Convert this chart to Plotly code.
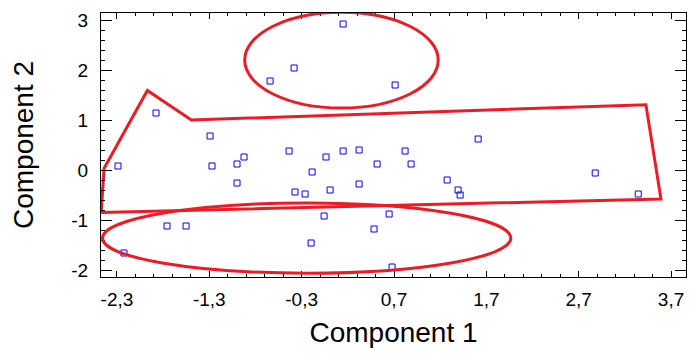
import plotly.graph_objects as go

# Scores (Component 1, Component 2)
comp1 = [0.149, -0.382, -0.642, 0.712, -1.877, -1.292, -2.289, -1.271, -1.000, -0.924,
         -1.000, -0.436, -0.372, -1.758, -1.552, -2.224, -0.263, -0.187, -0.036, 0.008,
         0.149, 0.322, 0.322, 0.517, 0.820, 0.885, 1.275, 1.394, 1.416, 1.611,
         -0.057, 0.647, 0.484, -0.198, 0.679, 2.879, 3.345]
comp2 = [2.934, 2.054, 1.794, 1.714, 1.154, 0.694, 0.094, 0.094, 0.134, 0.274,
         -0.246, 0.394, -0.426, -1.106, -1.106, -1.646, -0.466, -0.026, 0.274, -0.386,
         0.394, 0.414, -0.266, 0.134, 0.394, 0.134, -0.186, -0.386, -0.486, 0.634,
         -0.906, -0.866, -1.166, -1.446, -1.926, -0.046, -0.466]

# Group outline (polygon vertices)
hull_x = [-2.471, -2.439, -1.971, -1.494, 3.428, 3.591, -2.471]
hull_y = [-0.834, 0.050, 1.606, 1.014, 1.320, -0.566, -0.834]

# Ellipses: centre x, centre y, semi-axis x, semi-axis y
ellipse_top = [0.131, 2.212, 1.048, 0.958]
ellipse_bottom = [-0.246, -1.348, 2.211, 0.702]

x_tick_vals = [-2.3, -1.3, -0.3, 0.7, 1.7, 2.7, 3.7]
x_tick_labels = ["-2,3", "-1,3", "-0,3", "0,7", "1,7", "2,7", "3,7"]
y_tick_vals = [-2, -1, 0, 1, 2, 3]
y_tick_labels = ["-2", "-1", "0", "1", "2", "3"]

RED = "#ED1C24"
BLUE = "#0000FF"
FONT = "Liberation Sans, Arial, sans-serif"

fig = go.Figure()
fig.add_trace(go.Scatter(x=hull_x, y=hull_y, mode="lines",
                         line=dict(color=RED, width=3), hoverinfo="skip"))
fig.add_trace(go.Scatter(x=comp1, y=comp2, mode="markers",
                         marker=dict(symbol="square-open", size=6, color=BLUE,
                                     line=dict(color=BLUE, width=1))))

for e in (ellipse_top, ellipse_bottom):
    cx, cy, ax, ay = e
    fig.add_shape(type="circle", xref="x", yref="y",
                  x0=cx - ax, x1=cx + ax, y0=cy - ay, y1=cy + ay,
                  line=dict(color=RED, width=3))

# page body has an 8px default margin, so the figure is sized to fit inside it
fig.update_layout(
    width=692, height=348,
    margin=dict(l=93, r=14, t=5, b=79),
    paper_bgcolor="white", plot_bgcolor="white",
    showlegend=False,
    font=dict(family=FONT, color="black"),
)
fig.update_xaxes(
    range=[-2.473, 3.862], showgrid=False, zeroline=False, automargin=False,
    tickmode="array", tickvals=x_tick_vals, ticktext=x_tick_labels,
    ticks="inside", ticklen=6, tickcolor="black", tickwidth=1, ticklabelstandoff=5,
    showline=True, linecolor="black", linewidth=1, mirror="ticks",
    tickfont=dict(size=19, family=FONT, color="black"),
    minor=dict(tickmode="linear", tick0=-2.3, dtick=0.2, ticks="inside",
               ticklen=3, tickcolor="black", tickwidth=1),
    title=dict(text="Component 1", font=dict(size=28, family=FONT, color="black"), standoff=13),
)
fig.update_yaxes(
    range=[-2.126, 3.154], showgrid=False, zeroline=False, automargin=False,
    tickmode="array", tickvals=y_tick_vals, ticktext=y_tick_labels,
    ticks="inside", ticklen=11, tickcolor="black", tickwidth=1, ticklabelstandoff=8,
    showline=True, linecolor="black", linewidth=1, mirror="ticks",
    tickfont=dict(size=19, family=FONT, color="black"),
    minor=dict(tickmode="linear", tick0=0, dtick=0.2, ticks="inside",
               ticklen=4, tickcolor="black", tickwidth=1),
    title=dict(text="Component 2", font=dict(size=28, family=FONT, color="black"), standoff=33),
)

fig.write_html("out.html")
